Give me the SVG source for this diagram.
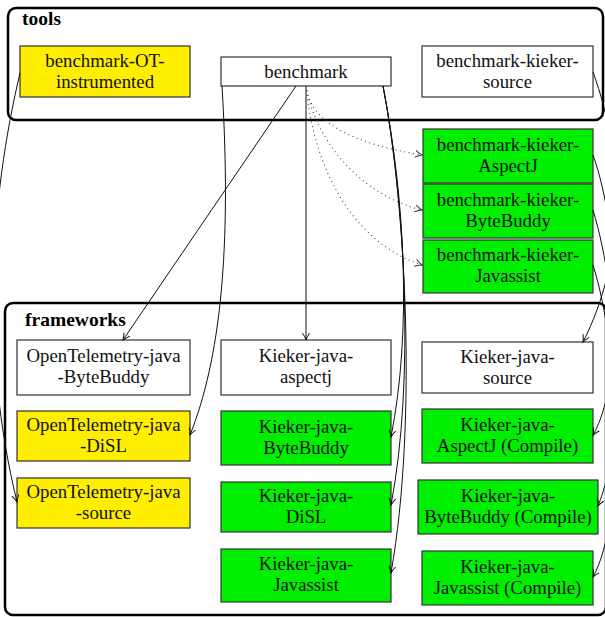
<svg xmlns="http://www.w3.org/2000/svg" width="605" height="617" viewBox="0 0 605 617">
<defs>
<style>
.cont{fill:none;stroke:#000;stroke-width:2.5}
.lab{font-family:"Liberation Serif",serif;font-size:19.5px;font-weight:bold;fill:#000}
.box{stroke:#333;stroke-width:1.2}
.w{fill:#fff}
.y{fill:#ffee00}
.g{fill:#00ee00}
.t{font-family:"Liberation Serif",serif;font-size:18.8px;fill:#111;text-anchor:middle}
.e{fill:none;stroke:#111;stroke-width:1;marker-end:url(#arr)}
.d{fill:none;stroke:#444;stroke-width:1.1;stroke-dasharray:1 3.5;marker-end:url(#arrd)}
</style>
<marker id="arr" markerUnits="userSpaceOnUse" markerWidth="10" markerHeight="10" refX="7" refY="4" orient="auto" viewBox="0 0 10 10">
<path d="M0,0.5 Q4,3 7,4 Q4,5 0,7.5" fill="none" stroke="#111" stroke-width="1"/>
</marker>
<marker id="arrd" markerUnits="userSpaceOnUse" markerWidth="10" markerHeight="10" refX="7" refY="4" orient="auto" viewBox="0 0 10 10">
<path d="M0,0.5 Q4,3 7,4 Q4,5 0,7.5" fill="none" stroke="#333" stroke-width="1"/>
</marker>
</defs>
<rect width="605" height="617" fill="#fff"/>
<g id="tools">
<rect class="cont" x="8" y="8" width="595" height="112" rx="8"/>
<text class="lab" x="22" y="25">tools</text>
</g>
<g id="frameworks">
<rect class="cont" x="5" y="303" width="601" height="312" rx="8"/>
<text class="lab" x="25" y="326">frameworks</text>
</g>
<g id="benchmark-OT-instrumented"><rect class="box y" x="20" y="46" width="170" height="51"/><text class="t" x="105" y="66.5">benchmark-OT-</text><text class="t" x="105" y="87.5">instrumented</text></g>
<g id="benchmark"><rect class="box w" x="221" y="57" width="170" height="29"/><text class="t" x="306" y="77.5">benchmark</text></g>
<g id="benchmark-kieker-source"><rect class="box w" x="422" y="46" width="171" height="51"/><text class="t" x="507.5" y="66.5">benchmark-kieker-</text><text class="t" x="507.5" y="87.5">source</text></g>
<g id="benchmark-kieker-AspectJ"><rect class="box g" x="423" y="129" width="170" height="54"/><text class="t" x="508" y="150.5">benchmark-kieker-</text><text class="t" x="508" y="171.5">AspectJ</text></g>
<g id="benchmark-kieker-ByteBuddy"><rect class="box g" x="423" y="184" width="170" height="54"/><text class="t" x="508" y="205.5">benchmark-kieker-</text><text class="t" x="508" y="226.5">ByteBuddy</text></g>
<g id="benchmark-kieker-Javassist"><rect class="box g" x="423" y="240" width="170" height="53"/><text class="t" x="508" y="261">benchmark-kieker-</text><text class="t" x="508" y="282">Javassist</text></g>
<g id="OpenTelemetry-java-ByteBuddy"><rect class="box w" x="17" y="340" width="173" height="55"/><text class="t" x="103.5" y="362">OpenTelemetry-java</text><text class="t" x="103.5" y="383">-ByteBuddy</text></g>
<g id="OpenTelemetry-java-DiSL"><rect class="box y" x="17" y="411" width="173" height="50"/><text class="t" x="103.5" y="430.5">OpenTelemetry-java</text><text class="t" x="103.5" y="451.5">-DiSL</text></g>
<g id="OpenTelemetry-java-source"><rect class="box y" x="17" y="478" width="173" height="50"/><text class="t" x="103.5" y="497.5">OpenTelemetry-java</text><text class="t" x="103.5" y="518.5">-source</text></g>
<g id="Kieker-java-aspectj"><rect class="box w" x="221" y="340" width="170" height="55"/><text class="t" x="306" y="362">Kieker-java-</text><text class="t" x="306" y="383">aspectj</text></g>
<g id="Kieker-java-ByteBuddy"><rect class="box g" x="221" y="411" width="170" height="54"/><text class="t" x="306" y="432.5">Kieker-java-</text><text class="t" x="306" y="453.5">ByteBuddy</text></g>
<g id="Kieker-java-DiSL"><rect class="box g" x="221" y="482" width="170" height="50"/><text class="t" x="306" y="501.5">Kieker-java-</text><text class="t" x="306" y="522.5">DiSL</text></g>
<g id="Kieker-java-Javassist"><rect class="box g" x="221" y="549" width="170" height="53"/><text class="t" x="306" y="570">Kieker-java-</text><text class="t" x="306" y="591">Javassist</text></g>
<g id="Kieker-java-source"><rect class="box w" x="422" y="342" width="171" height="51"/><text class="t" x="507.5" y="362.5">Kieker-java-</text><text class="t" x="507.5" y="383.5">source</text></g>
<g id="Kieker-java-AspectJ-Compile"><rect class="box g" x="422" y="409" width="171" height="54"/><text class="t" x="507.5" y="430.5">Kieker-java-</text><text class="t" x="507.5" y="451.5">AspectJ (Compile)</text></g>
<g id="Kieker-java-ByteBuddy-Compile"><rect class="box g" x="418" y="480" width="180" height="54"/><text class="t" x="508" y="501.5">Kieker-java-</text><text class="t" x="508" y="522.5">ByteBuddy (Compile)</text></g>
<g id="Kieker-java-Javassist-Compile"><rect class="box g" x="422" y="551" width="171" height="54"/><text class="t" x="507.5" y="572.5">Kieker-java-</text><text class="t" x="507.5" y="593.5">Javassist (Compile)</text></g>
<g id="connectors">
<path class="e" d="M296,86 L123,340"/>
<path class="e" d="M306,86 L306,340"/>
<path class="d" d="M306,86 C310,125 360,145 422,155"/>
<path class="d" d="M306,86 C315,140 360,195 422,210"/>
<path class="d" d="M306,86 C315,180 360,245 422,265"/>
<path class="e" d="M383,86 C405,200 412,330 391,437"/>
<path class="e" d="M383,86 C405,200 415,380 391,505"/>
<path class="e" d="M383,86 C405,200 418,420 391,573"/>
<path class="e" d="M222,86 C232,250 220,360 190,435"/>
<path class="e" d="M20,73 C-10,200 -20,350 17,502"/>
<path class="e" d="M593,72 C625,160 625,260 583,342"/>
<path class="e" d="M593,155 C620,230 625,380 593,435"/>
<path class="e" d="M593,210 C620,300 625,440 598,506"/>
<path class="e" d="M593,265 C620,350 625,520 593,577"/>
</g>
</svg>
